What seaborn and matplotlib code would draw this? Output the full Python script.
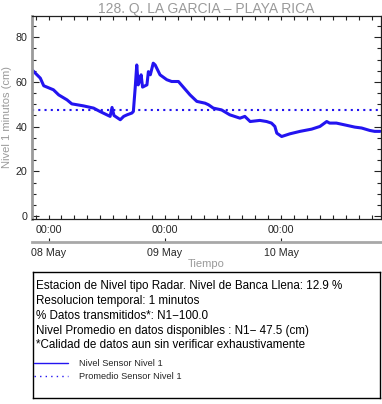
import matplotlib
matplotlib.use("Agg")
import matplotlib.pyplot as plt
import matplotlib.dates as mdates
import matplotlib.ticker as mticker
from matplotlib.lines import Line2D
import seaborn as sns
import pandas as pd
import numpy as np

# ---------------- data ----------------
title = "128. Q. LA GARCIA \u2013 PLAYA RICA"
times = [
    "2024-05-07 20:36", "2024-05-07 22:18", "2024-05-07 23:00", "2024-05-08 01:00",
    "2024-05-08 02:06", "2024-05-08 03:48", "2024-05-08 04:48", "2024-05-08 07:12",
    "2024-05-08 09:18", "2024-05-08 10:36", "2024-05-08 12:42", "2024-05-08 13:06",
    "2024-05-08 13:30", "2024-05-08 14:48", "2024-05-08 15:30", "2024-05-08 16:12",
    "2024-05-08 17:12", "2024-05-08 17:30", "2024-05-08 17:54", "2024-05-08 18:12",
    "2024-05-08 18:30", "2024-05-08 18:54", "2024-05-08 19:06", "2024-05-08 19:24",
    "2024-05-08 20:18", "2024-05-08 20:36", "2024-05-08 21:00", "2024-05-08 21:36",
    "2024-05-08 22:00", "2024-05-08 23:00", "2024-05-09 00:24", "2024-05-09 01:24",
    "2024-05-09 02:48", "2024-05-09 03:48", "2024-05-09 05:12", "2024-05-09 06:36",
    "2024-05-09 08:18", "2024-05-09 09:00", "2024-05-09 10:00", "2024-05-09 11:42",
    "2024-05-09 13:24", "2024-05-09 15:30", "2024-05-09 16:30", "2024-05-09 17:36",
    "2024-05-09 19:36", "2024-05-09 21:00", "2024-05-09 22:00", "2024-05-09 22:42",
    "2024-05-09 23:06", "2024-05-10 00:06", "2024-05-10 01:48", "2024-05-10 03:54",
    "2024-05-10 06:18", "2024-05-10 08:00", "2024-05-10 09:24", "2024-05-10 10:00",
    "2024-05-10 11:24", "2024-05-10 13:06", "2024-05-10 15:12", "2024-05-10 16:36",
    "2024-05-10 18:18", "2024-05-10 19:18", "2024-05-10 20:24",
]
nivel = [
    65.4, 61.7, 58.3, 56.5,
    54.2, 52.0, 50.2, 49.3,
    48.3, 46.8, 44.6, 48.6,
    45.0, 43.1, 44.6, 45.3,
    46.1, 46.8, 58.0, 67.6,
    58.7, 61.0, 63.2, 57.7,
    58.7, 64.6, 63.2, 68.4,
    67.6, 63.2, 61.0, 60.2,
    60.2, 57.7, 54.2, 51.3,
    50.5, 49.8, 48.3, 47.5,
    45.3, 43.8, 44.6, 42.3,
    42.8, 42.3, 41.6, 40.1,
    37.1, 35.6, 36.8, 37.9,
    38.9, 40.1, 42.3, 41.6,
    41.6, 40.8, 39.8, 39.4,
    38.3, 37.9, 37.9,
]
promedio = 47.5
info_lines = [
    "Estacion de Nivel tipo Radar. Nivel de Banca Llena: 12.9 %",
    "Resolucion temporal: 1 minutos",
    "% Datos transmitidos*: N1\u2212100.0",
    "Nivel Promedio en datos disponibles : N1\u2212 47.5 (cm)",
    "*Calidad de datos aun sin verificar exhaustivamente",
]
legend_labels = ["Nivel Sensor Nivel 1", "Promedio Sensor Nivel 1"]
ylabel = "Nivel 1 minutos (cm)"
xlabel = "Tiempo"

# ---------------- style ----------------
sns.set_style("ticks")
plt.rcParams["font.family"] = ["Liberation Sans", "DejaVu Sans"]
BLUE = "#2314f0"
GREY = "#9a9a9a"
DARK = "#222222"

W, H = 382, 404
fig = plt.figure(figsize=(W / 100, H / 100), dpi=100)
ax = fig.add_axes([32 / W, 1 - 219 / H, (380.5 - 32) / W, (219 - 16) / H])

df = pd.DataFrame({"t": pd.to_datetime(times), "nivel": nivel})
sns.lineplot(data=df, x="t", y="nivel", ax=ax, color=BLUE, lw=2.2, legend=False)
mean_line = ax.axhline(promedio, color=BLUE, lw=1.5, ls=(0, (1, 2)), dash_capstyle="butt")

ax.set_xlim(pd.Timestamp("2024-05-07 20:35"), pd.Timestamp("2024-05-10 20:30"))
ax.set_ylim(-1.3, 89.5)

# y axis
ax.yaxis.set_major_locator(mticker.MultipleLocator(20))
ax.yaxis.set_minor_locator(mticker.MultipleLocator(5))
ax.tick_params(axis="y", which="both", direction="in", left=True, right=True,
               color=DARK, labelsize=7.7, pad=3.5)
ax.tick_params(axis="y", which="major", length=5, width=0.8)
ax.tick_params(axis="y", which="minor", length=3, width=0.8)

# x axis (primary: hours)
ax.xaxis.set_major_locator(mdates.DayLocator())
ax.xaxis.set_major_formatter(mdates.DateFormatter("%H:%M"))
minor_pos = mdates.date2num(pd.date_range("2024-05-07 16:00", "2024-05-11 00:00", freq="160min"))
ax.xaxis.set_minor_locator(mticker.FixedLocator(minor_pos))
ax.tick_params(axis="x", which="both", direction="in", top=True, bottom=True,
               length=3, width=0.8, color=DARK, labelsize=7.7, pad=4.3)

for side in ["top", "right", "bottom"]:
    ax.spines[side].set_color(DARK)
    ax.spines[side].set_linewidth(0.9)
ax.spines["left"].set_color(GREY)
ax.spines["left"].set_linewidth(2)

ax.set_xlabel("")
ax.set_ylabel(ylabel, color=GREY, fontsize=8, labelpad=2)
ax.set_title(title, color=GREY, fontsize=10, pad=2.5)

# secondary x axis (dates)
sec = ax.secondary_xaxis(-22.7 / 203)
sec.xaxis.set_major_locator(mdates.DayLocator())
sec.xaxis.set_major_formatter(mdates.DateFormatter("%d %b"))
sec.xaxis.set_minor_locator(mticker.NullLocator())
sec.tick_params(axis="x", which="major", direction="in", length=3, width=0.8,
                color=DARK, labelsize=7.7, pad=4.3)
sec.spines["bottom"].set_color("#a8a8a8")
sec.spines["bottom"].set_linewidth(2)
sec.set_xlabel(xlabel, color=GREY, fontsize=8, labelpad=1)

# info box
box = fig.add_axes([33 / W, 1 - 398 / H, (380 - 33) / W, (398 - 272) / H])
box.set_xticks([])
box.set_yticks([])
box.set_facecolor("white")
for s in box.spines.values():
    s.set_color("black")
    s.set_linewidth(1)
    s.set_visible(True)

line_y = [285.7, 300.7, 315.7, 330.7, 345.2]
for txt, yy in zip(info_lines, line_y):
    fig.text(36 / W, 1 - yy / H, txt, fontsize=8.4, color="black", va="center", ha="left")

handles = [
    Line2D([], [], color=BLUE, lw=1.0),
    Line2D([], [], color=BLUE, lw=1.0, ls=(0, (1, 3))),
]
fig.legend(handles, legend_labels, loc="upper left",
           bbox_to_anchor=(34 / W, 1 - 359.5 / H), frameon=False, fontsize=6.7,
           handlelength=3.7, handletextpad=1.1, borderpad=0, borderaxespad=0,
           labelspacing=0.4)

fig.savefig("out.png", dpi=100)
